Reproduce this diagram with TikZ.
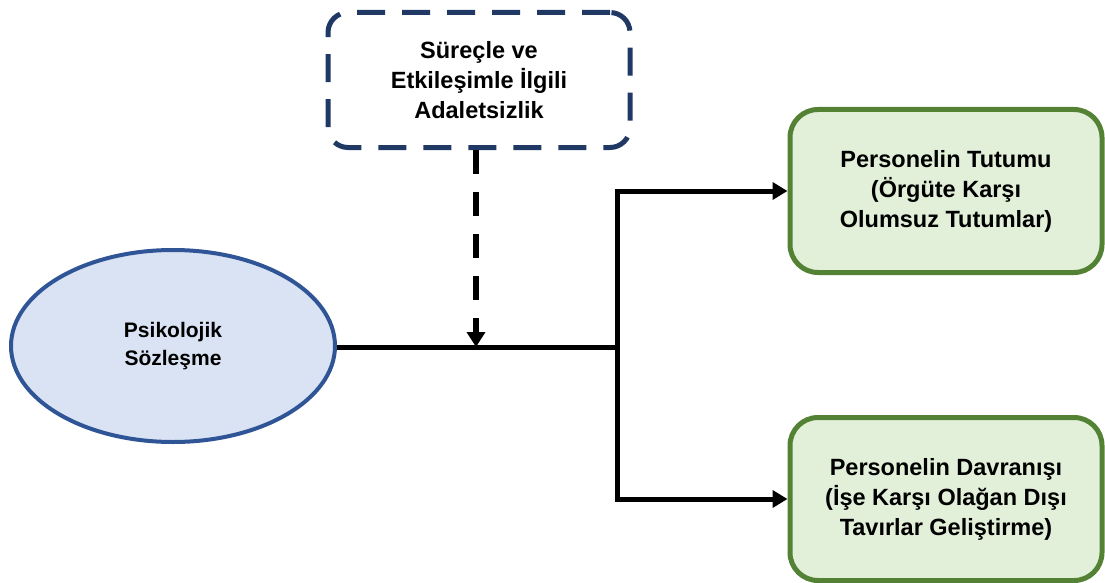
\documentclass[tikz,border=0pt]{standalone}
\usepackage{fontspec}
\setmainfont{Liberation Sans}
\usetikzlibrary{shapes.geometric,arrows.meta}
\definecolor{navyline}{HTML}{1F3864}
\definecolor{ellfill}{HTML}{DAE3F3}
\definecolor{ellline}{HTML}{2F5597}
\definecolor{boxfill}{HTML}{E2EFD9}
\definecolor{boxline}{HTML}{548235}
\tikzset{
  x=1pt, y=-1pt,
  bigtext/.style={font=\bfseries\fontsize{23.5}{30}\selectfont, align=center, text=black},
  moderator/.style={bigtext, draw=navyline, line width=5pt, rounded corners=20pt,
    dash pattern=on 28pt off 17pt, minimum width=302pt, minimum height=135pt, inner sep=0pt},
  source/.style={ellipse, draw=ellline, fill=ellfill, line width=4pt,
    minimum width=324pt, minimum height=192pt, inner sep=0pt, align=center,
    font=\bfseries\fontsize{21}{28}\selectfont},
  outcome/.style={bigtext, draw=boxline, fill=boxfill, line width=5pt, rounded corners=28pt,
    minimum width=312pt, minimum height=163pt, inner sep=0pt},
  conn/.style={line width=5pt, draw=black},
  arr/.style={conn, -{Triangle[length=15pt,width=17pt]}},
  dasharr/.style={line width=6pt, draw=black, dash pattern=on 24pt off 18pt,
    -{Triangle[length=15pt,width=18pt]}}
}
\begin{document}
\begin{tikzpicture}
\useasboundingbox (0,0) rectangle (1105,583);
\node[moderator] (adal) at (479,80) {Süreçle ve\\Etkileşimle İlgili\\Adaletsizlik};
\node[source] (psk) at (173,346) {Psikolojik\\Sözleşme};
\node[outcome] (tutum) at (946,191) {Personelin Tutumu\\(Örgüte Karşı\\Olumsuz Tutumlar)};
\node[outcome] (davr) at (946,499) {Personelin Davranışı\\(İşe Karşı Olağan Dışı\\Tavırlar Geliştirme)};
\coordinate (junc) at (617,347);
\coordinate (hit) at (476,347);
\draw[conn] (psk.east |- junc) -- (junc);
\draw[arr] (junc) |- (tutum.west);
\draw[arr] (junc) |- (davr.west);
\draw[conn] (617,191) -- (617,499);
\draw[dasharr] (adal.south -| hit) -- (hit);
\end{tikzpicture}
\end{document}
